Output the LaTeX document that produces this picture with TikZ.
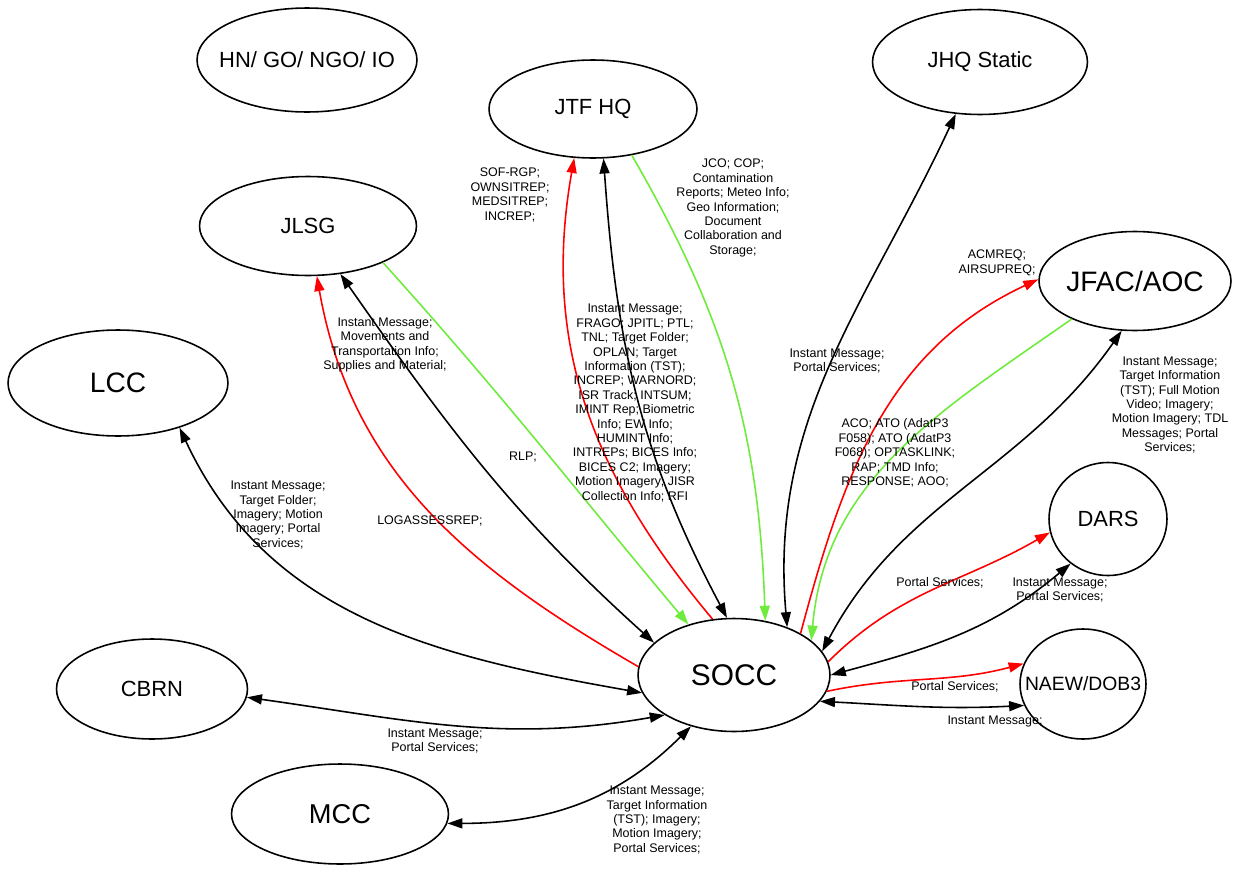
\documentclass[tikz,border=0pt]{standalone}
\usepackage{fontspec}
\setmainfont{Liberation Sans}
\usetikzlibrary{shapes.geometric}
\usetikzlibrary{arrows.meta}
\definecolor{linkred}{RGB}{255,0,0}
\definecolor{linkgreen}{RGB}{110,235,60}

\begin{document}
\begin{tikzpicture}[x=0.02cm,y=-0.02cm,
  unit/.style={draw, ellipse, line width=0.9pt, inner sep=0pt},
  every label/.style={font=\fontsize{12.5}{14}\selectfont},
  info/.style={align=center, font=\fontsize{7.1}{8.2}\selectfont, inner sep=0pt},
  link/.style={line width=0.9pt, >={Triangle[length=3mm,width=2mm]}}]
\useasboundingbox (0,0) rectangle (1255,869);

% units
\node[unit, minimum width=4.4cm, minimum height=2.08cm, label=center:{HN/ GO/ NGO/ IO}] (hn) at (307,60) {};
\node[unit, minimum width=4.16cm, minimum height=1.96cm, label=center:{JTF HQ}] (jtf) at (593,109) {};
\node[unit, minimum width=4.3cm, minimum height=2.1cm, label=center:{JHQ Static}] (jhq) at (980,62) {};
\node[unit, minimum width=4.34cm, minimum height=1.98cm, label=center:{JLSG}] (jlsg) at (308,226) {};
\node[unit, minimum width=3.84cm, minimum height=1.98cm, label={[font=\fontsize{16}{18}\selectfont]center:{JFAC/AOC}}] (jfac) at (1135,281) {};
\node[unit, minimum width=4.4cm, minimum height=2.12cm, label={[font=\fontsize{16}{18}\selectfont]center:{LCC}}] (lcc) at (118,383) {};
\node[unit, minimum width=2.36cm, minimum height=2.26cm, label=center:{DARS}] (dars) at (1108,519) {};
\node[unit, minimum width=3.84cm, minimum height=2.26cm, label={[font=\fontsize{17}{19}\selectfont]center:{SOCC}}] (socc) at (734,675) {};
\node[unit, minimum width=2.52cm, minimum height=2.2cm, label={[font=\fontsize{11}{13}\selectfont]center:{NAEW/DOB3}}] (naew) at (1083,684) {};
\node[unit, minimum width=3.82cm, minimum height=2.0cm, label=center:{CBRN}] (cbrn) at (152,689) {};
\node[unit, minimum width=4.34cm, minimum height=2.0cm, label={[font=\fontsize{15.5}{17}\selectfont]center:{MCC}}] (mcc) at (340,814) {};

% links
\draw[link,<->] (jtf.-78) to[out=-86,in=118] (socc.97);
\draw[link,->,linkred] (socc.111) to[out=130,in=-100] (jtf.249);
\draw[link,->,linkgreen] (jtf.-50) to[out=-60,in=92] (socc.60);
\draw[link,<->] (jhq.245) to[out=-115,in=95] (socc.42);
\draw[link,<->] (jlsg.-56) to[out=-55,in=138] (socc.158);
\draw[link,->,linkred] (socc.175) to[out=150,in=-80] (jlsg.-80);
\draw[link,->,linkgreen] (jlsg.-26) to[out=-48,in=130] (socc.132);
\draw[link,<->] (lcc.-36) to[out=-65,in=170] (socc.191);
\draw[link,<->] (cbrn.-5) to[out=-8,in=190] (socc.210);
\draw[link,<->] (mcc.-5) to[out=0,in=225] (socc.230);
\draw[link,->,linkred] (socc.32) to[out=75,in=205] (jfac.179);
\draw[link,->,linkgreen] (jfac.211) to[out=215,in=85] (socc.24);
\draw[link,<->] (jfac.255) to[out=235,in=62] (socc.15);
\draw[link,->,linkred] (socc.8) to[out=45,in=210] (dars.193);
\draw[link,<->] (socc.0) to[out=15,in=220] (dars.230);
\draw[link,->,linkred] (socc.-10) to[out=12,in=195] (naew.161);
\draw[link,<->] (socc.-17) to[out=-3,in=183] (naew.200);

% texts
\node[info] (tjtfa) at (510,195) {SOF-RGP;\\OWNSITREP;\\MEDSITREP;\\INCREP;};
\node[info] (tjtfb) at (733,208) {JCO; COP;\\Contamination\\Reports; Meteo Info;\\Geo Information;\\Document\\Collaboration and\\Storage;};
\node[info] (tjtfc) at (635,403) {Instant Message;\\FRAGO; JPITL; PTL;\\TNL; Target Folder;\\OPLAN; Target\\Information (TST);\\INCREP; WARNORD;\\ISR Track; INTSUM;\\IMINT Rep; Biometric\\Info; EW Info;\\HUMINT Info;\\INTREPs; BICES Info;\\BICES C2; Imagery;\\Motion Imagery; JISR\\Collection Info; RFI};
\node[info] (tjlsga) at (385,345) {Instant Message;\\Movements and\\Transportation Info;\\Supplies and Material;};
\node[info] (tjlsgb) at (523,457) {RLP;};
\node[info] (tjlsgc) at (430,521) {LOGASSESSREP;};
\node[info] (tlcc) at (278,515) {Instant Message;\\Target Folder;\\Imagery; Motion\\Imagery; Portal\\Services;};
\node[info] (tjhq) at (837,361) {Instant Message;\\Portal Services;};
\node[info] (tjfaca) at (997,263) {ACMREQ;\\AIRSUPREQ;};
\node[info] (tjfacb) at (895,453) {ACO; ATO (AdatP3\\F058); ATO (AdatP3\\F068); OPTASKLINK;\\RAP; TMD Info;\\RESPONSE; AOO;};
\node[info] (tjfacc) at (1170,405) {Instant Message;\\Target Information\\(TST); Full Motion\\Video; Imagery;\\Motion Imagery; TDL\\Messages; Portal\\Services;};
\node[info] (tdarsa) at (940,583) {Portal Services;};
\node[info] (tdarsb) at (1060,590) {Instant Message;\\Portal Services;};
\node[info] (tnaewa) at (955,687) {Portal Services;};
\node[info] (tnaewb) at (995,721) {Instant Message;};
\node[info] (tcbrn) at (435,741) {Instant Message;\\Portal Services;};
\node[info] (tmcc) at (657,820) {Instant Message;\\Target Information\\(TST); Imagery;\\Motion Imagery;\\Portal Services;};
\end{tikzpicture}
\end{document}
